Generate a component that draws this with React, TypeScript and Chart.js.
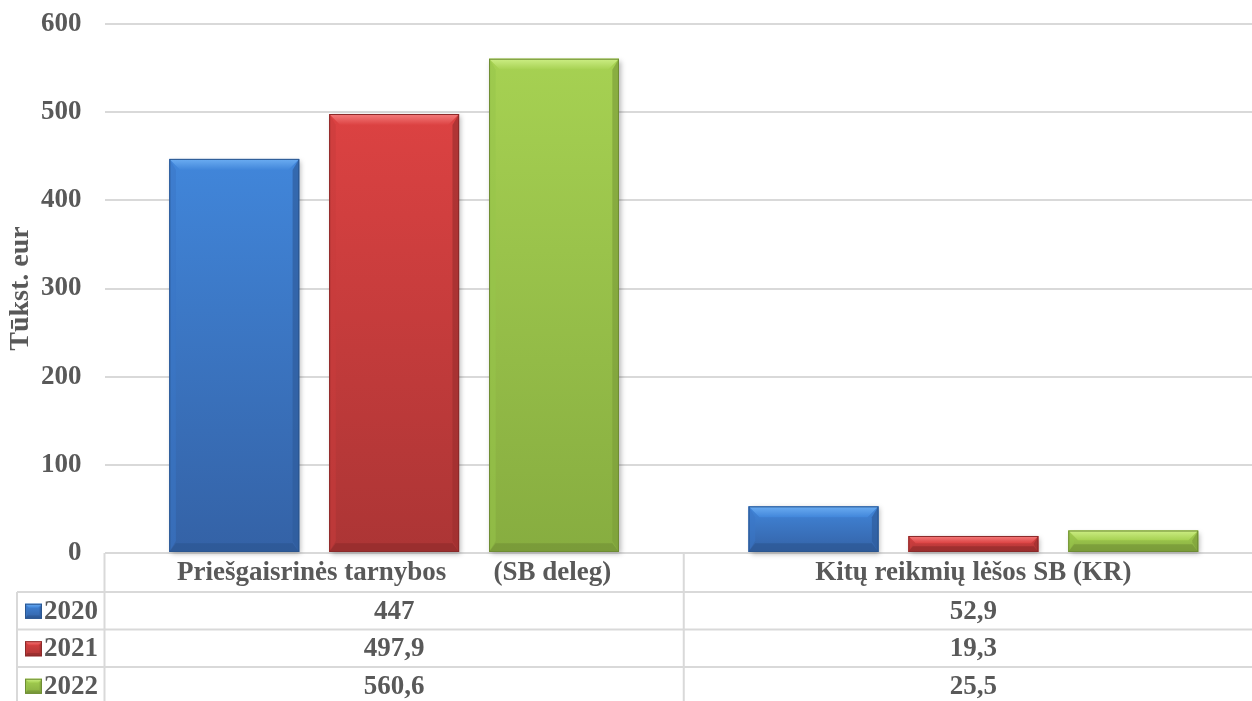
import React, { useEffect, useRef } from 'react';
import { Chart, registerables } from 'chart.js';

Chart.register(...registerables);

const categories = ['Priešgaisrinės tarnybos       (SB deleg)', 'Kitų reikmių lėšos SB (KR)'];
const seriesNames = ['2020', '2021', '2022'];
const values2020 = [447, 52.9];
const values2021 = [497.9, 19.3];
const values2022 = [560.6, 25.5];
const yMin = 0;
const yMax = 600;
const yStep = 100;
const yTitle = 'Tūkst. eur';

const seriesValues = [values2020, values2021, values2022];

const palettes = [
  { base: '#3d7fd4', topBevel: '#6cadf2', bodyTop: '#4186da', bodyBottom: '#3462a6', leftSide: '#3a76c6', rightSide: '#2f5c9c', bottomBevel: '#2c558f', outline: '#2b568f' },
  { base: '#d94040', topBevel: '#f57d7d', bodyTop: '#dc4242', bodyBottom: '#ac3535', leftSide: '#c83c3c', rightSide: '#9e2f2f', bottomBevel: '#8e2a2a', outline: '#8a2a2a' },
  { base: '#a2cf50', topBevel: '#cdee85', bodyTop: '#a6d152', bodyBottom: '#87ad40', leftSide: '#98c44a', rightSide: '#7ea03a', bottomBevel: '#728f35', outline: '#6e8c34' },
];

const FONT = '"Liberation Serif", "Times New Roman", serif';
const TEXT_COLOR = '#595959';
const GRID_COLOR = '#d9d9d9';

function fmt(v: number) {
  return String(v).replace('.', ',');
}

function drawBevelBox(ctx: CanvasRenderingContext2D, l: number, t: number, r: number, b: number, p: any, bev: number, shadow: boolean) {
  const h = b - t;
  const w = r - l;
  const bv = Math.max(1, Math.min(bev, h / 2.2, w / 2.2));
  ctx.save();
  if (shadow) {
    ctx.shadowColor = 'rgba(0,0,0,0.28)';
    ctx.shadowBlur = 5;
    ctx.shadowOffsetX = 2;
    ctx.shadowOffsetY = 2;
  }
  const g = ctx.createLinearGradient(0, t, 0, b);
  g.addColorStop(0, p.bodyTop);
  g.addColorStop(1, p.bodyBottom);
  ctx.fillStyle = g;
  ctx.fillRect(l, t, w, h);
  ctx.restore();

  ctx.save();
  const gt = ctx.createLinearGradient(0, t, 0, t + bv);
  gt.addColorStop(0, p.topBevel);
  gt.addColorStop(1, p.bodyTop);
  ctx.fillStyle = gt;
  ctx.beginPath();
  ctx.moveTo(l, t); ctx.lineTo(r, t); ctx.lineTo(r - bv, t + bv); ctx.lineTo(l + bv, t + bv); ctx.closePath();
  ctx.fill();
  ctx.fillStyle = p.leftSide;
  ctx.globalAlpha = 0.55;
  ctx.beginPath();
  ctx.moveTo(l, t); ctx.lineTo(l + bv * 0.6, t + bv); ctx.lineTo(l + bv * 0.6, b - bv); ctx.lineTo(l, b); ctx.closePath();
  ctx.fill();
  ctx.fillStyle = p.rightSide;
  ctx.globalAlpha = 0.7;
  ctx.beginPath();
  ctx.moveTo(r, t); ctx.lineTo(r - bv * 0.6, t + bv); ctx.lineTo(r - bv * 0.6, b - bv); ctx.lineTo(r, b); ctx.closePath();
  ctx.fill();
  ctx.fillStyle = p.bottomBevel;
  ctx.globalAlpha = 0.6;
  ctx.beginPath();
  ctx.moveTo(l, b); ctx.lineTo(r, b); ctx.lineTo(r - bv * 0.6, b - bv * 0.8); ctx.lineTo(l + bv * 0.6, b - bv * 0.8); ctx.closePath();
  ctx.fill();
  ctx.globalAlpha = 1;
  ctx.strokeStyle = p.outline;
  ctx.lineWidth = 1;
  ctx.strokeRect(l + 0.5, t + 0.5, w - 1, h - 1);
  ctx.restore();
}

const bevelPlugin = {
  id: 'bevelBars',
  afterDatasetsDraw(chart: any) {
    const ctx = chart.ctx as CanvasRenderingContext2D;
    chart.data.datasets.forEach((_ds: any, di: number) => {
      const meta = chart.getDatasetMeta(di);
      meta.data.forEach((el: any) => {
        const { x, y, base, width } = el.getProps(['x', 'y', 'base', 'width'], true);
        const l = x - width / 2;
        const r = x + width / 2;
        const t = Math.min(y, base);
        const b = Math.max(y, base);
        drawBevelBox(ctx, l, t, r, b, palettes[di], 11, true);
      });
    });
  },
};

const tablePlugin = {
  id: 'dataTable',
  afterDraw(chart: any) {
    const ctx = chart.ctx as CanvasRenderingContext2D;
    const area = chart.chartArea;
    const xs = chart.scales.x;
    const n = categories.length;
    const bounds: number[] = [];
    for (let i = 0; i <= n; i++) {
      if (i === 0) bounds.push(area.left);
      else if (i === n) bounds.push(area.right);
      else bounds.push((xs.getPixelForValue(i - 1) + xs.getPixelForValue(i)) / 2);
    }
    const headerTop = area.bottom;
    const headerH = 39;
    const rowH = 37.5;
    const legendLeft = 17;
    const rowTops = seriesNames.map((_, i) => headerTop + headerH + i * rowH);
    const bottom = headerTop + headerH + seriesNames.length * rowH;

    ctx.save();
    ctx.strokeStyle = GRID_COLOR;
    ctx.lineWidth = 2;
    ctx.beginPath();
    bounds.slice(0, n).forEach((bx) => {
      ctx.moveTo(bx, headerTop);
      ctx.lineTo(bx, bottom);
    });
    ctx.moveTo(legendLeft, headerTop + headerH);
    ctx.lineTo(legendLeft, bottom);
    rowTops.forEach((rt) => {
      ctx.moveTo(legendLeft, rt);
      ctx.lineTo(area.right, rt);
    });
    ctx.stroke();

    ctx.fillStyle = TEXT_COLOR;
    ctx.font = `bold 27px ${FONT}`;
    ctx.textBaseline = 'middle';
    ctx.textAlign = 'center';
    categories.forEach((c, i) => {
      ctx.fillText(c, xs.getPixelForValue(i), headerTop + headerH / 2 + 1);
    });
    seriesNames.forEach((s, si) => {
      const cy = rowTops[si] + rowH / 2 + 1;
      ctx.textAlign = 'center';
      ctx.fillStyle = TEXT_COLOR;
      seriesValues[si].forEach((v, ci) => {
        ctx.fillText(fmt(v), xs.getPixelForValue(ci), cy);
      });
      drawBevelBox(ctx, 25, cy - 8, 42, cy + 7, palettes[si], 4, false);
      ctx.fillStyle = TEXT_COLOR;
      ctx.textAlign = 'left';
      ctx.fillText(s, 44, cy);
    });
    ctx.restore();
  },
};

export default function App() {
  const ref = useRef<HTMLCanvasElement | null>(null);
  useEffect(() => {
    document.body.style.margin = '0';
    document.body.style.overflow = 'hidden';
    if (!ref.current) return;
    const chart = new Chart(ref.current, {
      type: 'bar',
      data: {
        labels: categories,
        datasets: seriesNames.map((s, i) => ({
          label: s,
          data: seriesValues[i],
          backgroundColor: palettes[i].base,
          borderWidth: 0,
          categoryPercentage: 0.828,
          barPercentage: 0.8125,
        })),
      },
      options: {
        animation: false,
        responsive: true,
        maintainAspectRatio: false,
        layout: { padding: { left: 0, right: 1, top: 24, bottom: 148 } },
        plugins: { legend: { display: false }, tooltip: { enabled: false }, title: { display: false } },
        scales: {
          x: {
            ticks: { display: false },
            grid: { display: false },
            border: { display: false },
            afterFit: (s: any) => { s.height = 0; s.paddingLeft = 0; s.paddingRight = 0; s.paddingTop = 0; s.paddingBottom = 0; },
          },
          y: {
            min: yMin,
            max: yMax,
            ticks: {
              stepSize: yStep,
              padding: 23,
              color: TEXT_COLOR,
              font: { family: FONT, size: 27, weight: 'bold' },
            },
            grid: { color: GRID_COLOR, lineWidth: 2, drawTicks: false },
            border: { display: false },
            title: {
              display: true,
              text: yTitle,
              color: TEXT_COLOR,
              font: { family: FONT, size: 28, weight: 'bold' },
              padding: { top: 4, bottom: 0 },
            },
            afterFit: (s: any) => { s.width = 104.5; s.paddingTop = 0; s.paddingBottom = 0; s.paddingLeft = 0; s.paddingRight = 0; },
          },
        },
      },
      plugins: [bevelPlugin, tablePlugin],
    } as any);
    return () => chart.destroy();
  }, []);
  return (
    <div style={{ width: 1252, height: 701, overflow: 'hidden', position: 'relative', background: '#fff' }}>
      <div style={{ width: 1264, height: 701, position: 'absolute', left: 0, top: 0 }}>
        <canvas ref={ref} />
      </div>
    </div>
  );
}
